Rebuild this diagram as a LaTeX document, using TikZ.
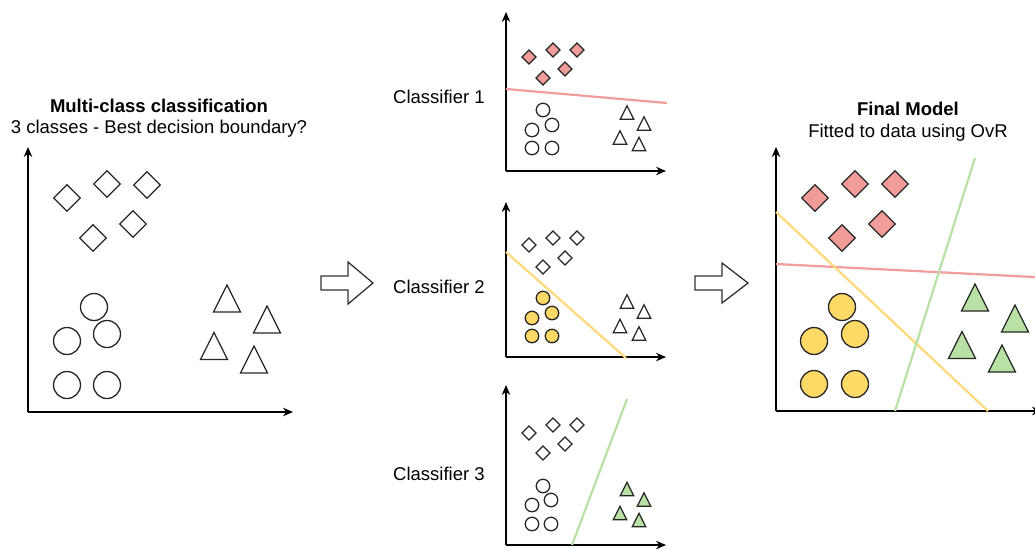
\documentclass[tikz,border=0pt]{standalone}
\usepackage{fontspec}
\setmainfont{Liberation Sans}
\usetikzlibrary{arrows.meta,shapes.geometric}

\definecolor{redfill}{HTML}{F19C99}
\definecolor{yelfill}{HTML}{FFD966}
\definecolor{grnfill}{HTML}{B9E0A5}
\definecolor{redline}{HTML}{F29C9C}
\definecolor{yelline}{HTML}{FFD97A}
\definecolor{grnline}{HTML}{B9E0A5}
\definecolor{arrowgray}{HTML}{333333}

\tikzset{
  lbl/.style={inner sep=0pt, font=\fontsize{18.5}{22}\selectfont},
  axis/.style={draw=black, line width=1.3pt, -{Stealth[length=10pt,width=8.5pt]}},
  ptdia/.style={diamond, draw=black!85, line width=1.3pt, inner sep=0pt, minimum size=#1},
  ptcirc/.style={circle, draw=black!85, line width=1.3pt, inner sep=0pt, minimum size=#1},
  pics/ptri/.style={code={\draw[pic actions] (0,-#1/2) -- (#1/2,#1/2) -- (-#1/2,#1/2) -- cycle;}},
  tristyle/.style={draw=black!85, line width=1.3pt, line join=miter},
  boundary/.style={line width=2.2pt},
  blockarrow/.style={draw=arrowgray, line width=1.3pt, fill=white, line join=miter},
}

\begin{document}
\begin{tikzpicture}[x=1pt, y=-1pt]
\useasboundingbox (0,0) rectangle (1035,550);

% ---------- left plot: raw data ----------
\node[lbl, anchor=base, font=\fontsize{18.5}{22}\selectfont\bfseries] (ttl) at (159,112.7) {Multi-class classification};
\node[lbl, anchor=base] (sub) at (159,133) {3 classes - Best decision boundary?};
\coordinate (o0) at (28,412);
\coordinate (y0) at (28,147);
\coordinate (x0) at (293,412);
\draw[axis] (o0) -- (y0);
\draw[axis] (o0) -- (x0);
\foreach \x/\y [count=\i] in {67/198,107/184,147/185,133/224,93/238}
  \node[ptdia=27] (d0\i) at (\x,\y) {};
\foreach \x/\y [count=\i] in {94/307,107/334,67/341,67/385,107/385}
  \node[ptcirc=27] (c0\i) at (\x,\y) {};
\foreach \x/\y in {227/298.5,267/319.5,214/346,254/359.5}
  \pic[tristyle] at (\x,\y) {ptri=27};

% ---------- block arrows ----------
\draw[blockarrow] (321,276) -- (348,276) -- (348,262) -- (373,283) -- (348,304) -- (348,290) -- (321,290) -- cycle;
\draw[blockarrow] (695,276) -- (722,276) -- (722,263) -- (748,283) -- (722,303) -- (722,290) -- (695,290) -- cycle;

% ---------- classifier 1 ----------
\node[lbl, anchor=base west] (cl1) at (393,103.5) {Classifier 1};
\coordinate (o1) at (506,171);
\coordinate (y1) at (506,12);
\coordinate (x1) at (666,171);
\coordinate (r1a) at (506,89);
\coordinate (r1b) at (667,103);
\draw[axis] (o1) -- (y1);
\draw[axis] (o1) -- (x1);
\draw[boundary, redline] (r1a) -- (r1b);
\foreach \x/\y [count=\i] in {529/57,553/50,577/50,565/69,543/78}
  \node[ptdia=14.5, fill=redfill] (d1\i) at (\x,\y) {};
\foreach \x/\y [count=\i] in {543/110,552/125,532/130,532/148,552/148}
  \node[ptcirc=13.5] (c1\i) at (\x,\y) {};
\foreach \x/\y in {627/112.5,644/123.5,620/137.5,639/144}
  \pic[tristyle] at (\x,\y) {ptri=13.5};

% ---------- classifier 2 ----------
\node[lbl, anchor=base west] (cl2) at (393,293.5) {Classifier 2};
\coordinate (o2) at (506,357);
\coordinate (y2) at (506,202);
\coordinate (x2) at (666,357);
\coordinate (y2a) at (506,252);
\coordinate (y2b) at (626,358);
\draw[axis] (o2) -- (y2);
\draw[axis] (o2) -- (x2);
\draw[boundary, yelline] (y2a) -- (y2b);
\foreach \x/\y [count=\i] in {529/245,553/238,577/238,565/258,543/267}
  \node[ptdia=14.5] (d2\i) at (\x,\y) {};
\foreach \x/\y [count=\i] in {543/298,552/313,532/318,532/336,552/336}
  \node[ptcirc=13.5, fill=yelfill] (c2\i) at (\x,\y) {};
\foreach \x/\y in {627/301.5,644/311.5,620/326,639/333.5}
  \pic[tristyle] at (\x,\y) {ptri=13.5};

% ---------- classifier 3 ----------
\node[lbl, anchor=base west] (cl3) at (393,480.5) {Classifier 3};
\coordinate (o3) at (506,545);
\coordinate (y3) at (506,385);
\coordinate (x3) at (666,545);
\coordinate (g3a) at (572,545);
\coordinate (g3b) at (627,399);
\draw[axis] (o3) -- (y3);
\draw[axis] (o3) -- (x3);
\draw[boundary, grnline] (g3a) -- (g3b);
\foreach \x/\y [count=\i] in {529/433,553/425,577/425,565/444,543/453}
  \node[ptdia=14.5] (d3\i) at (\x,\y) {};
\foreach \x/\y [count=\i] in {543/486,551/500,532/505,532/524,551/524}
  \node[ptcirc=13.5] (c3\i) at (\x,\y) {};
\foreach \x/\y in {627/489,644/499.5,620/513,639/520}
  \pic[tristyle, fill=grnfill] at (\x,\y) {ptri=13.5};

% ---------- final model ----------
\node[lbl, anchor=base, font=\fontsize{18.5}{22}\selectfont\bfseries] (fttl) at (908,115) {Final Model};
\node[lbl, anchor=base] (fsub) at (908,137) {Fitted to data using OvR};
\coordinate (o4) at (776,411);
\coordinate (y4) at (776,147);
\coordinate (x4) at (1042,411);
\coordinate (r4a) at (776,264);
\coordinate (r4b) at (1040,277.3);
\coordinate (y4a) at (776,212);
\coordinate (y4b) at (988,411);
\coordinate (g4a) at (895,411);
\coordinate (g4b) at (975,158);
\draw[axis] (o4) -- (y4);
\draw[axis] (o4) -- (x4);
\draw[boundary, redline] (r4a) -- (r4b);
\draw[boundary, yelline] (y4a) -- (y4b);
\draw[boundary, grnline] (g4a) -- (g4b);
\foreach \x/\y [count=\i] in {815/198,855/184,895/184,882/224,842/238}
  \node[ptdia=27, fill=redfill] (d4\i) at (\x,\y) {};
\foreach \x/\y [count=\i] in {842/307,855/334,814/341,814/384,855/384}
  \node[ptcirc=27, fill=yelfill] (c4\i) at (\x,\y) {};
\foreach \x/\y in {975/297.5,1015/318.5,962/345,1002/358.5}
  \pic[tristyle, fill=grnfill] at (\x,\y) {ptri=27};
\end{tikzpicture}
\end{document}
